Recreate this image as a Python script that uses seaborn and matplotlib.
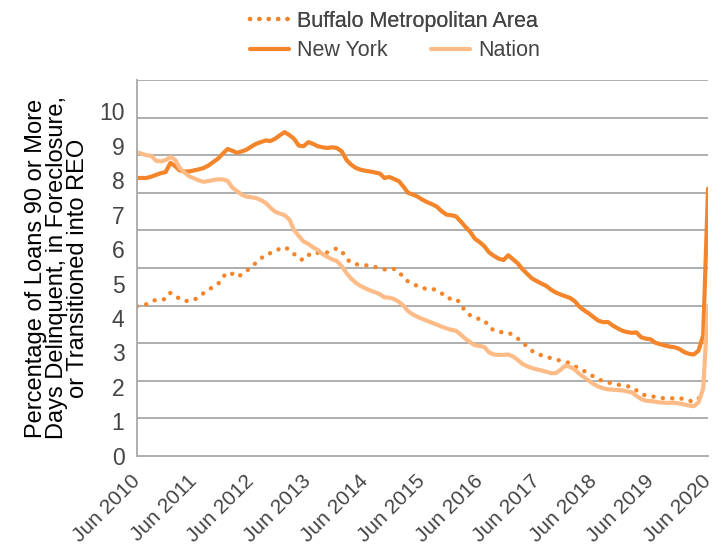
import numpy as np
import pandas as pd
import matplotlib
matplotlib.use("Agg")
import matplotlib.pyplot as plt
import seaborn as sns

# monthly values, Jun 2010 .. Jun 2020
months = pd.date_range("2010-06-01", "2020-06-01", freq="MS")
year_labels = [f"Jun {y}" for y in range(2010, 2021)]

new_york = [
    8.06, 8.06, 8.06, 8.10, 8.15, 8.20, 8.23, 8.50, 8.40, 8.28, 8.25, 8.25,
    8.28, 8.31, 8.35, 8.42, 8.52, 8.62, 8.76, 8.90, 8.85, 8.79, 8.83, 8.88,
    8.97, 9.05, 9.10, 9.15, 9.13, 9.20, 9.30, 9.39, 9.30, 9.20, 9.00, 8.98,
    9.10, 9.05, 8.98, 8.95, 8.93, 8.95, 8.93, 8.83, 8.58, 8.45, 8.35, 8.30,
    8.27, 8.25, 8.22, 8.19, 8.06, 8.09, 8.03, 7.97, 7.80, 7.63, 7.58, 7.52,
    7.43, 7.36, 7.30, 7.23, 7.10, 7.00, 6.98, 6.95, 6.80, 6.65, 6.50, 6.30,
    6.20, 6.08, 5.90, 5.80, 5.72, 5.68, 5.82, 5.70, 5.58, 5.42, 5.28, 5.15,
    5.07, 5.00, 4.93, 4.82, 4.74, 4.68, 4.63, 4.58, 4.48, 4.33, 4.22, 4.13,
    4.02, 3.92, 3.88, 3.88, 3.78, 3.70, 3.63, 3.59, 3.57, 3.58, 3.44, 3.40,
    3.38, 3.28, 3.24, 3.20, 3.17, 3.15, 3.10, 3.01, 2.96, 2.94, 3.05, 3.50,
    7.75,
]

nation = [
    8.81, 8.76, 8.72, 8.70, 8.56, 8.54, 8.58, 8.67, 8.58, 8.35, 8.22, 8.11,
    8.05, 7.99, 7.95, 7.97, 8.00, 8.02, 8.02, 7.98, 7.78, 7.68, 7.58, 7.52,
    7.50, 7.48, 7.42, 7.34, 7.20, 7.08, 7.03, 6.98, 6.85, 6.55, 6.38, 6.22,
    6.15, 6.05, 5.97, 5.85, 5.77, 5.70, 5.65, 5.50, 5.30, 5.15, 5.02, 4.93,
    4.86, 4.80, 4.75, 4.69, 4.60, 4.59, 4.55, 4.47, 4.35, 4.20, 4.10, 4.03,
    3.97, 3.92, 3.86, 3.81, 3.75, 3.70, 3.66, 3.63, 3.52, 3.40, 3.30, 3.21,
    3.19, 3.16, 3.00, 2.94, 2.93, 2.93, 2.94, 2.88, 2.78, 2.67, 2.60, 2.55,
    2.51, 2.48, 2.44, 2.40, 2.40, 2.50, 2.62, 2.58, 2.50, 2.38, 2.28, 2.18,
    2.08, 2.01, 1.96, 1.93, 1.92, 1.91, 1.90, 1.87, 1.84, 1.74, 1.65, 1.60,
    1.59, 1.57, 1.55, 1.54, 1.54, 1.54, 1.52, 1.49, 1.46, 1.44, 1.55, 1.95,
    4.35,
]

buffalo = [
    4.34, 4.37, 4.40, 4.47, 4.53, 4.53, 4.55, 4.73, 4.65, 4.55, 4.49, 4.50,
    4.52, 4.62, 4.72, 4.82, 4.90, 4.98, 5.18, 5.32, 5.28, 5.19, 5.26, 5.36,
    5.48, 5.60, 5.72, 5.84, 5.88, 5.92, 6.02, 6.05, 5.98, 5.86, 5.72, 5.68,
    5.82, 5.90, 5.89, 5.89, 5.90, 5.97, 6.02, 5.94, 5.72, 5.60, 5.56, 5.54,
    5.53, 5.51, 5.48, 5.44, 5.41, 5.42, 5.42, 5.36, 5.15, 5.06, 5.00, 4.92,
    4.86, 4.85, 4.85, 4.80, 4.72, 4.58, 4.56, 4.56, 4.42, 4.18, 4.08, 4.00,
    3.97, 3.94, 3.73, 3.64, 3.59, 3.59, 3.57, 3.51, 3.40, 3.30, 3.17, 3.05,
    2.96, 2.92, 2.88, 2.83, 2.80, 2.76, 2.73, 2.69, 2.60, 2.52, 2.46, 2.38,
    2.30, 2.22, 2.17, 2.13, 2.10, 2.07, 2.04, 2.02, 2.00, 1.90, 1.80, 1.75,
    1.73, 1.71, 1.68, 1.67, 1.67, 1.67, 1.67, 1.65, 1.60, 1.58, 1.65, 1.90,
    np.nan,
]

df = pd.DataFrame({
    "month": months,
    "Buffalo Metropolitan Area": buffalo,
    "New York": new_york,
    "Nation": nation,
})

sns.set_theme(style="white")
plt.rcParams["font.family"] = ["Liberation Sans", "DejaVu Sans"]

dark = "#F5852A"
light = "#FDBC87"
grid_col = "#A8A8A8"
txt = "#444444"

fig = plt.figure(figsize=(7.21, 5.56), dpi=100)
ax = fig.add_axes([0.190, 0.180, 0.792, 0.676])

sns.lineplot(data=df, x="month", y="Buffalo Metropolitan Area", ax=ax, color=dark,
             lw=3.2, linestyle=(0, (0.01, 2.1)), dash_capstyle="round")
sns.lineplot(data=df, x="month", y="New York", ax=ax, color=dark, lw=3.0)
sns.lineplot(data=df, x="month", y="Nation", ax=ax, color=light, lw=3.0)

# labels 0-10 on their own scale, gridlines split the box in 10 parts
top = 10.9
ax.set_ylim(0, top)
ax.set_xlim(months[0], months[-1])
ax.set_yticks(range(11))
ax.set_yticklabels([str(i) for i in range(11)], fontsize=16.5, color=txt)
ax.set_yticks(np.linspace(0, top, 11), minor=True)
ax.yaxis.grid(True, which="minor", color=grid_col, lw=1.3)
ax.yaxis.grid(False, which="major")
ax.xaxis.grid(False)

ax.set_xticks(months[::12])
ax.set_xticklabels(year_labels, rotation=45, ha="right", va="center",
                   rotation_mode="anchor", fontsize=15, color=txt)
ax.tick_params(axis="both", which="both", length=0)
ax.tick_params(axis="y", pad=9)
ax.tick_params(axis="x", pad=16)

for s in ["top", "right"]:
    ax.spines[s].set_visible(False)
for s in ["left", "bottom"]:
    ax.spines[s].set_color(grid_col)
    ax.spines[s].set_linewidth(1.3)

ax.set_xlabel("")
ax.set_ylabel("Percentage of Loans 90 or More\nDays Delinquent, in Foreclosure,\nor Transitioned into REO",
              fontsize=17, color="black", linespacing=0.95, labelpad=7)

lines = ax.get_lines()
leg1 = fig.legend([lines[0]], ["Buffalo Metropolitan Area"], loc="center left",
                  bbox_to_anchor=(250 / 721, 1 - 21 / 556), frameon=False,
                  fontsize=15.5, handlelength=1.8, handletextpad=0.4,
                  labelcolor=txt, borderpad=0, borderaxespad=0)
leg2 = fig.legend([lines[1], lines[2]], ["New York", "Nation"], loc="center left",
                  bbox_to_anchor=(250 / 721, 1 - 51 / 556), frameon=False, ncol=2,
                  fontsize=15.5, handlelength=1.8, handletextpad=0.4, columnspacing=2.0,
                  labelcolor=txt, borderpad=0, borderaxespad=0)
fig.add_artist(leg1)

fig.savefig("out.png", dpi=100)
